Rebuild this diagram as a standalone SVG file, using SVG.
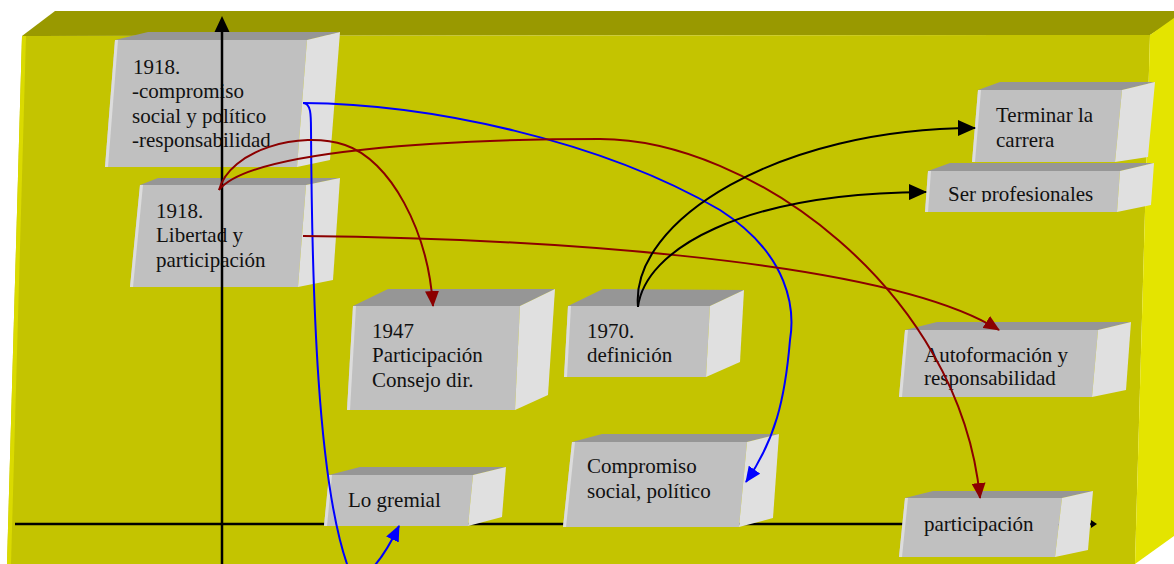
<svg xmlns="http://www.w3.org/2000/svg" width="1174" height="564" viewBox="0 0 1174 564">
  <style>
    .front{fill:#c0c0c0}
    .top{fill:#969696}
    .side{fill:#e0e0e0}
    .edge{fill:#dcdcdc}
    text{font-family:"Liberation Serif","Times New Roman",serif;font-size:21px;fill:#111}
    .c{fill:none;stroke-width:2}
    .red{stroke:#8b0000}
    .blue{stroke:#0000ff}
    .blk{stroke:#000}
  </style>
  <defs>
    <marker id="ar" markerUnits="userSpaceOnUse" markerWidth="16" markerHeight="14" refX="15" refY="7" orient="auto" viewBox="0 0 16 14">
      <path d="M0,0 L16,7 L0,14 z" fill="#8b0000"/>
    </marker>
    <marker id="ab" markerUnits="userSpaceOnUse" markerWidth="16" markerHeight="14" refX="15" refY="7" orient="auto" viewBox="0 0 16 14">
      <path d="M0,0 L16,7 L0,14 z" fill="#0000ff"/>
    </marker>
    <marker id="ak" markerUnits="userSpaceOnUse" markerWidth="18" markerHeight="16" refX="17" refY="8" orient="auto" viewBox="0 0 18 16">
      <path d="M0,0 L18,8 L0,16 z" fill="#000"/>
    </marker>
    <clipPath id="clipSer"><rect x="920" y="160" width="210" height="42"/></clipPath>
  </defs>

  <g id="background">
    <polygon points="22,36 55,11 1174,11 1174,20 1150,35" fill="#999900"/>
    <polygon points="22,36 1150,35 1135,564 7,564" fill="#c4c400"/>
    <polygon points="22,36 26,36 11,564 7,564" fill="#dada00"/>
    <polygon points="1150,35 1174,18 1174,536 1135,564" fill="#e4e400"/>
  </g>

  <g id="h-axis">
    <line x1="15" y1="524" x2="1092" y2="524" stroke="#000" stroke-width="2.5"/>
    <polygon points="1091,520 1097,524 1091,528" fill="#000"/>
  </g>

  <g id="n1918a">
    <polygon class="top" points="115,40 148,32 340,32 307,40"/>
    <polygon class="front" points="115,40 307,40 297,167 105,167"/>
    <polygon class="edge" points="115,40 118,40 108,167 105,167"/>
    <polygon class="side" points="307,40 340,32 330,160 297,167"/>
    <text x="133" y="74">1918.</text>
    <text x="132" y="98">-compromiso</text>
    <text x="132" y="123">social y político</text>
    <text x="132" y="147">-responsabilidad</text>
  </g>

  <g id="n1918b">
    <polygon class="top" points="140,185 158,178 340,178 306,185"/>
    <polygon class="front" points="140,185 306,185 298,287 130,287"/>
    <polygon class="edge" points="140,185 143,185 133,287 130,287"/>
    <polygon class="side" points="306,185 340,178 333,280 298,287"/>
    <text x="156" y="218">1918.</text>
    <text x="156" y="242">Libertad y</text>
    <text x="156" y="267">participación</text>
  </g>

  <g id="n1947">
    <polygon class="top" points="353,306 388,289 555,289 520,306"/>
    <polygon class="front" points="353,306 520,306 515,410 347,410"/>
    <polygon class="edge" points="353,306 356,306 350,410 347,410"/>
    <polygon class="side" points="520,306 555,289 548,395 515,410"/>
    <text x="372" y="338">1947</text>
    <text x="372" y="362">Participación</text>
    <text x="372" y="387">Consejo dir.</text>
  </g>

  <g id="n1970">
    <polygon class="top" points="568,306 603,289 744,290 710,306"/>
    <polygon class="front" points="568,306 710,306 706,377 564,377"/>
    <polygon class="edge" points="568,306 571,306 567,377 564,377"/>
    <polygon class="side" points="710,306 744,290 740,362 706,377"/>
    <text x="587" y="338">1970.</text>
    <text x="587" y="362">definición</text>
  </g>

  <g id="nCompromiso">
    <polygon class="top" points="572,442 602,434 779,434 747,442"/>
    <polygon class="front" points="572,442 747,442 739,527 563,527"/>
    <polygon class="edge" points="572,442 575,442 566,527 563,527"/>
    <polygon class="side" points="747,442 779,434 773,518 739,527"/>
    <text x="587" y="473">Compromiso</text>
    <text x="587" y="498">social, político</text>
  </g>

  <g id="nGremial">
    <polygon class="top" points="329,475 360,467 506,467 473,475"/>
    <polygon class="front" points="329,475 473,475 468,526 324,526"/>
    <polygon class="edge" points="329,475 332,475 327,526 324,526"/>
    <polygon class="side" points="473,475 506,467 502,517 468,526"/>
    <text x="348" y="507">Lo gremial</text>
  </g>

  <g id="nTerminar">
    <polygon class="top" points="978,90 1000,82 1155,82 1122,90"/>
    <polygon class="front" points="978,90 1122,90 1115,162 972,162"/>
    <polygon class="edge" points="978,90 981,90 975,162 972,162"/>
    <polygon class="side" points="1122,90 1155,82 1148,157 1115,162"/>
    <text x="996" y="122">Terminar la</text>
    <text x="996" y="147">carrera</text>
  </g>

  <g id="nSer">
    <polygon class="top" points="928,171 950,163 1154,163 1120,171"/>
    <polygon class="front" points="928,171 1120,171 1117,212 925,212"/>
    <polygon class="edge" points="928,171 931,171 928,212 925,212"/>
    <polygon class="side" points="1120,171 1154,163 1151,205 1117,212"/>
    <text x="948" y="201" clip-path="url(#clipSer)">Ser profesionales</text>
  </g>

  <g id="nAutoformacion">
    <polygon class="top" points="905,330 937,322 1131,322 1098,330"/>
    <polygon class="front" points="905,330 1098,330 1092,397 899,397"/>
    <polygon class="edge" points="905,330 908,330 902,397 899,397"/>
    <polygon class="side" points="1098,330 1131,322 1126,390 1092,397"/>
    <text x="924" y="362">Autoformación y</text>
    <text x="924" y="385">responsabilidad</text>
  </g>

  <g id="nParticipacion">
    <polygon class="top" points="905,498 933,491 1093,491 1062,498"/>
    <polygon class="front" points="905,498 1062,498 1055,557 899,557"/>
    <polygon class="edge" points="905,498 908,498 902,557 899,557"/>
    <polygon class="side" points="1062,498 1093,491 1088,550 1055,557"/>
    <text x="924" y="531">participación</text>
  </g>

  <g id="v-axis">
    <line x1="222" y1="564" x2="222" y2="30" stroke="#000" stroke-width="2.5"/>
    <polygon points="222,16 214.5,32 229.5,32" fill="#000"/>
  </g>

  <g id="connectors">
    <path class="c blue" d="M303,103 C430,104 600,140 720,210 C790,255 795,310 790,340 C785,400 775,440 746,482" marker-end="url(#ab)"/>
    <path class="c blue" d="M303,103 C311,103 311,115 311,130 C312,300 318,480 347,564 C357,593 380,565 399,526" marker-end="url(#ab)"/>
    <path class="c red" d="M219,190 C230,150 300,130 345,145 C390,160 428,230 433,306" marker-end="url(#ar)"/>
    <path class="c red" d="M219,190 C250,150 450,139 600,139 C750,139 960,290 980,498" marker-end="url(#ar)"/>
    <path class="c red" d="M303,236 C500,238 880,255 999,330" marker-end="url(#ar)"/>
    <path class="c blk" d="M638,307 C630,220 780,128 975,128" marker-end="url(#ak)"/>
    <path class="c blk" d="M638,307 C645,250 740,193 926,192" marker-end="url(#ak)"/>
  </g>
</svg>
